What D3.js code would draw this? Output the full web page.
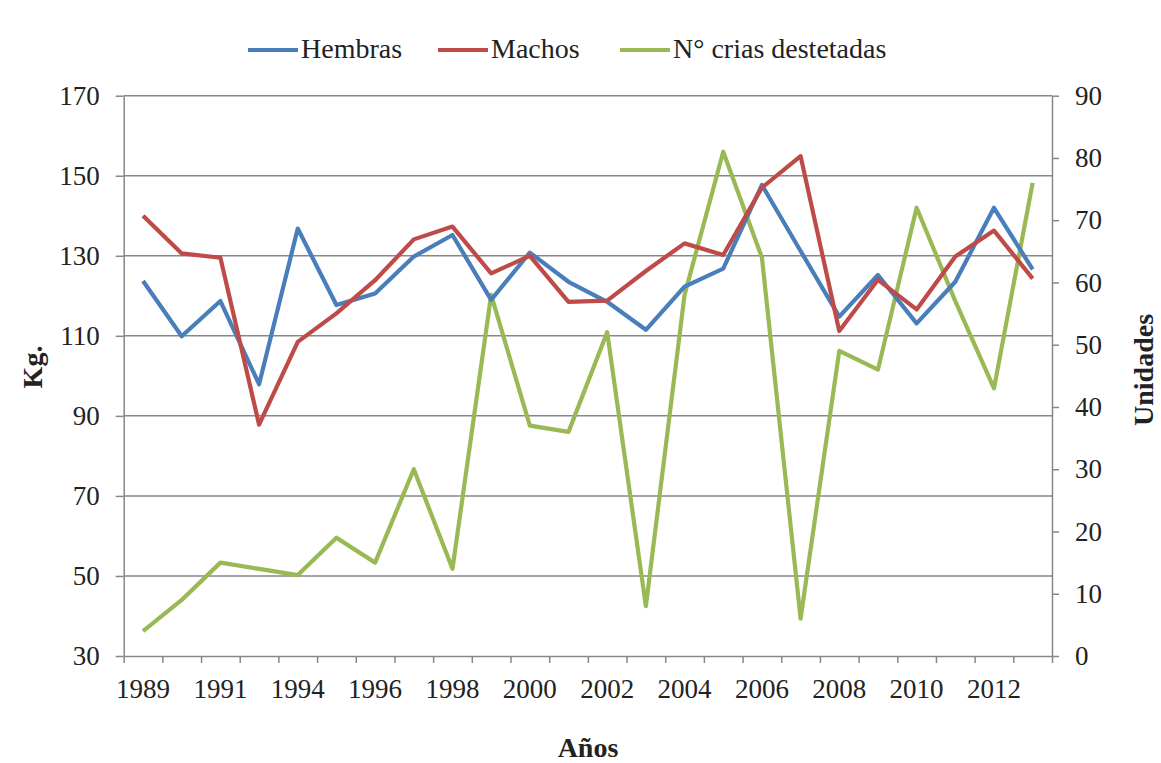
<!DOCTYPE html>
<html>
<head>
<meta charset="utf-8">
<script src="https://cdn.jsdelivr.net/npm/d3@7/dist/d3.min.js"></script>
<style>
  body { margin: 0; background: #fff; }
  svg { display: block; }
  text { font-family: "Liberation Serif", "Times New Roman", serif; fill: #222; }
</style>
</head>
<body>
<svg id="chart" width="1161" height="763"></svg>
<script>
// ---- data ----
const years = ["1989","1990","1991","1993","1994","1995","1996","1997","1998","1999","2000","2001","2002","2003","2004","2005","2006","2007","2008","2009","2010","2011","2012","2013"];
const yearLabels = ["1989","1991","1994","1996","1998","2000","2002","2004","2006","2008","2010","2012"];
const hembras = [123.7,109.9,118.7,97.9,136.8,117.7,120.6,129.8,135.2,119,130.8,123.5,118.5,111.5,122.3,126.8,147.7,131.2,114.8,125.2,113.1,123.5,142,126.6];
const machos  = [140,130.6,129.5,87.8,108.5,115.6,123.9,134.1,137.3,125.6,130,118.5,118.8,126.2,133.1,130.2,147,154.9,111.2,124,116.6,129.8,136.3,124.3];
const crias   = [4,9,15,14,13,19,15,30,14,58,37,36,52,8,58,81,64,6,49,46,72,57,43,76];
const leftTicks = [30,50,70,90,110,130,150,170];
const rightTicks = [0,10,20,30,40,50,60,70,80,90];
const seriesNames = ["Hembras","Machos","N° crias destetadas"];
const seriesColors = ["#4a7ebb","#be4b48","#98b954"];

// ---- layout ----
const L = 123.7, R = 1052, T = 95.7, B = 656;
const svg = d3.select("#chart");
svg.append("rect").attr("width",1161).attr("height",763).attr("fill","#fff");

const x = d3.scaleBand().domain(years).range([L, R]).padding(0);
const xb = d3.scaleLinear().domain([0, years.length]).range([L, R]);
const yL = d3.scaleLinear().domain([30,170]).range([B, T]);
const yR = d3.scaleLinear().domain([0,90]).range([B, T]);
const gridColor = "#878787";

// gridlines
svg.append("g").selectAll("line").data(leftTicks.filter(d => d > 30)).join("line")
  .attr("x1", L).attr("x2", R).attr("y1", d => yL(d)).attr("y2", d => yL(d))
  .attr("stroke", gridColor).attr("stroke-width", 1.5);

function styleAxis(g) {
  g.select(".domain").attr("stroke", gridColor).attr("stroke-width", 1.5);
  g.selectAll(".tick line").attr("stroke", gridColor).attr("stroke-width", 1.5);
  g.selectAll("text").attr("font-size", 27).attr("fill", "#222")
    .attr("font-family", '"Liberation Serif", "Times New Roman", serif');
}

// left axis
svg.append("g").attr("transform", `translate(${L},0)`)
  .call(d3.axisLeft(yL).tickValues(leftTicks).tickSize(8).tickPadding(16).tickSizeOuter(0))
  .call(styleAxis);

// right axis
svg.append("g").attr("transform", `translate(${R},0)`)
  .call(d3.axisRight(yR).tickValues(rightTicks).tickSize(7).tickPadding(16).tickSizeOuter(0))
  .call(styleAxis);

// bottom axis: boundary ticks
svg.append("g").attr("transform", `translate(0,${B})`)
  .call(d3.axisBottom(xb).tickValues(d3.range(0, years.length + 1)).tickFormat("").tickSize(7).tickSizeOuter(0))
  .call(styleAxis);
// bottom axis: labels
svg.append("g").attr("transform", `translate(0,${B})`)
  .call(d3.axisBottom(x).tickValues(yearLabels).tickSize(0).tickPadding(23))
  .call(g => g.select(".domain").remove())
  .call(styleAxis);

// lines
const lineL = d3.line().x((d, i) => x(years[i]) + x.bandwidth() / 2).y(d => yL(d));
const lineR = d3.line().x((d, i) => x(years[i]) + x.bandwidth() / 2).y(d => yR(d));
const plotG = svg.append("g");
plotG.append("path").datum(crias).attr("d", lineR).attr("fill","none")
  .attr("stroke", seriesColors[2]).attr("stroke-width", 4.2).attr("stroke-linejoin","round");
plotG.append("path").datum(hembras).attr("d", lineL).attr("fill","none")
  .attr("stroke", seriesColors[0]).attr("stroke-width", 4.2).attr("stroke-linejoin","round");
plotG.append("path").datum(machos).attr("d", lineL).attr("fill","none")
  .attr("stroke", seriesColors[1]).attr("stroke-width", 4.2).attr("stroke-linejoin","round");

// axis titles
svg.append("text").attr("transform", "translate(42,367) rotate(-90)")
  .attr("text-anchor","middle").attr("font-size", 28).attr("font-weight","bold").text("Kg.");
svg.append("text").attr("transform", "translate(1153,370) rotate(-90)")
  .attr("text-anchor","middle").attr("font-size", 28).attr("font-weight","bold").text("Unidades");
svg.append("text").attr("x", 588).attr("y", 757)
  .attr("text-anchor","middle").attr("font-size", 28).attr("font-weight","bold").text("Años");

// legend
const legendX = [248, 438, 620];
const lg = svg.append("g");
seriesNames.forEach((name, i) => {
  lg.append("line").attr("x1", legendX[i]).attr("x2", legendX[i] + 50)
    .attr("y1", 50).attr("y2", 50).attr("stroke", seriesColors[i]).attr("stroke-width", 4.2);
  lg.append("text").attr("x", legendX[i] + 53).attr("y", 58)
    .attr("font-size", 28).text(name);
});
</script>
</body>
</html>
